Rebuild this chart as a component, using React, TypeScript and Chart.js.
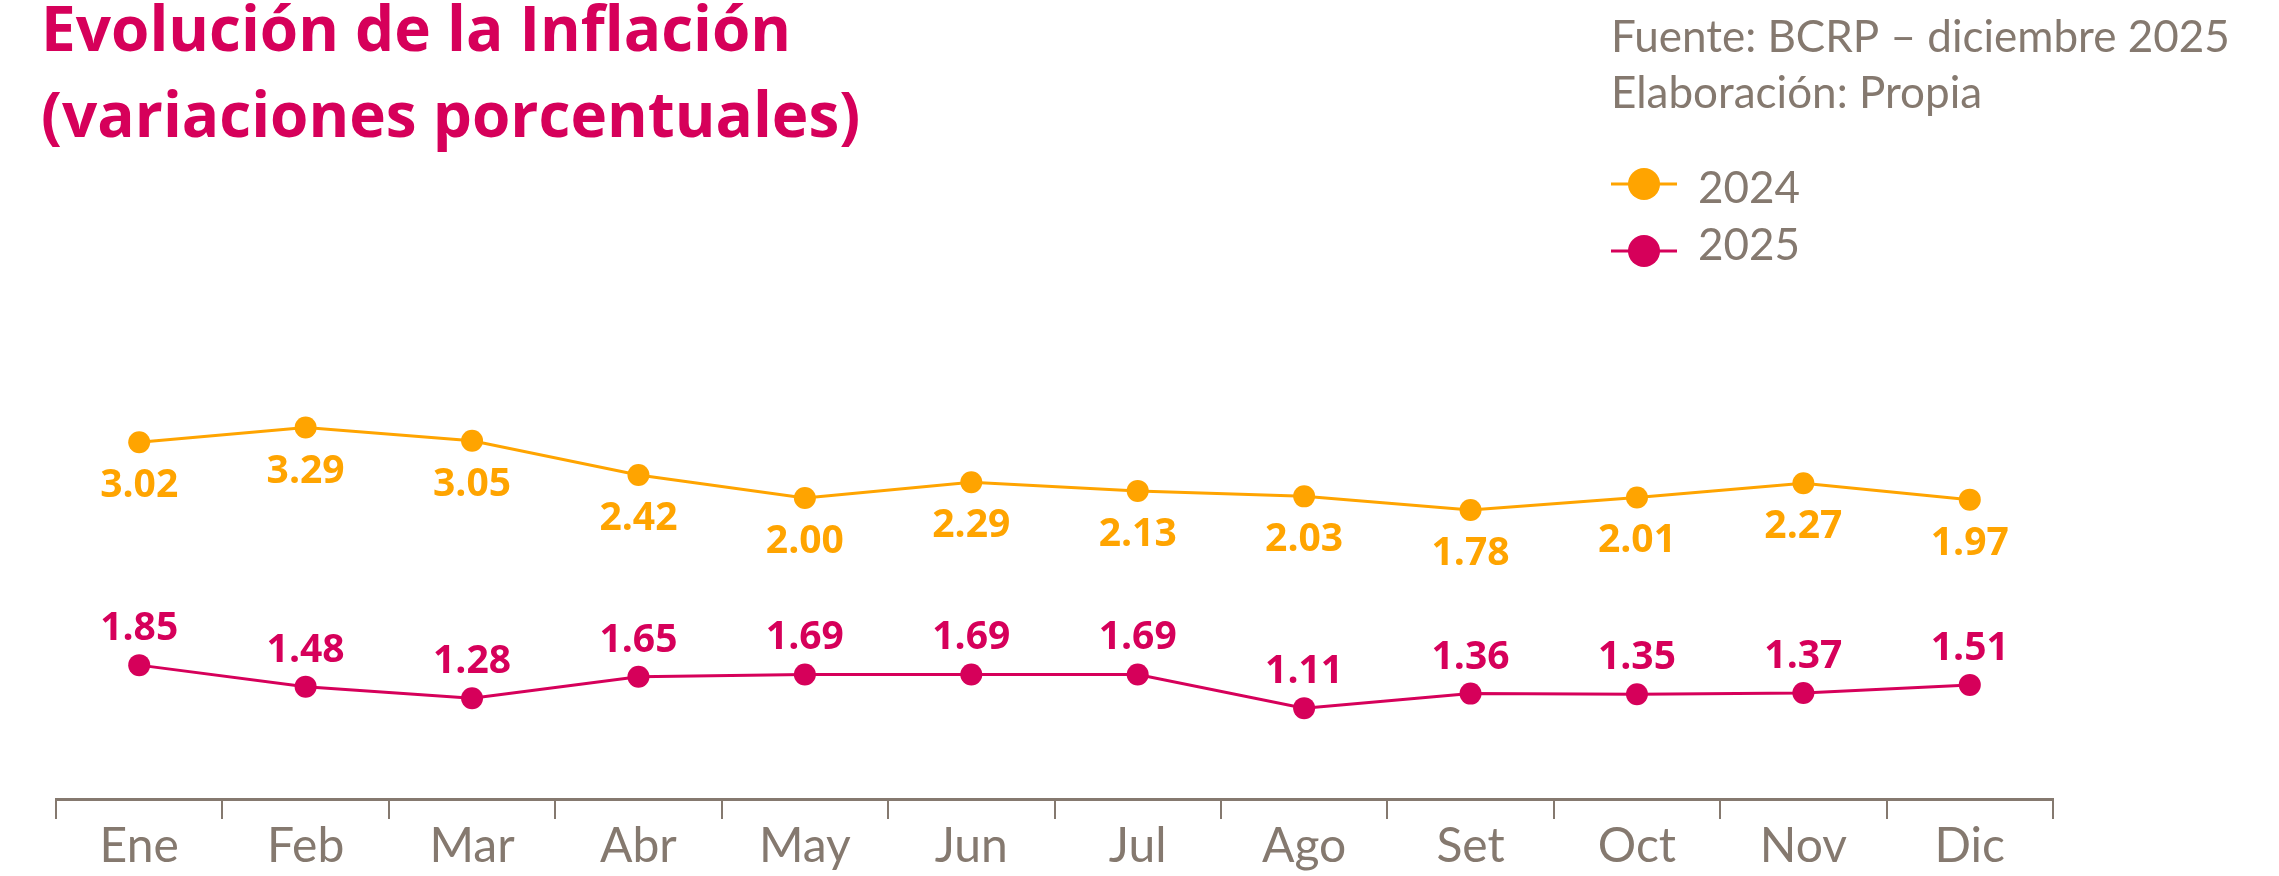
import React, { useEffect, useRef } from 'react';
import { Chart, registerables } from 'chart.js';

Chart.register(...registerables);

const months = ['Ene', 'Feb', 'Mar', 'Abr', 'May', 'Jun', 'Jul', 'Ago', 'Set', 'Oct', 'Nov', 'Dic'];
const values2024 = [3.02, 3.29, 3.05, 2.42, 2.0, 2.29, 2.13, 2.03, 1.78, 2.01, 2.27, 1.97];
const values2025 = [1.85, 1.48, 1.28, 1.65, 1.69, 1.69, 1.69, 1.11, 1.36, 1.35, 1.37, 1.51];
const seriesLabels = ['2024', '2025'];
const titleLines = ['Evolución de la Inflación', '(variaciones porcentuales)'];
const sourceLines = ['Fuente: BCRP – diciembre 2025', 'Elaboración: Propia'];

const ORANGE = '#FFA400';
const PINK = '#D6005A';
const GRAY = '#85796F';

const LABEL_BASELINE_OFFSETS = [55, -25];

const valueLabelPlugin = {
  id: 'valueLabels',
  afterDatasetsDraw(chart: any) {
    const ctx = chart.ctx;
    ctx.save();
    ctx.font = 'bold 39px "Open Sans"';
    ctx.textAlign = 'center';
    ctx.textBaseline = 'alphabetic';
    chart.data.datasets.forEach((ds: any, i: number) => {
      const meta = chart.getDatasetMeta(i);
      ctx.fillStyle = ds.borderColor;
      meta.data.forEach((pt: any, j: number) => {
        const v = ds.data[j] as number;
        ctx.fillText(v.toFixed(2), pt.x, pt.y + LABEL_BASELINE_OFFSETS[i]);
      });
    });
    ctx.restore();
  },
};

const decorPlugin = {
  id: 'decor',
  afterDraw(chart: any) {
    const ctx = chart.ctx;
    ctx.save();
    ctx.textAlign = 'left';
    ctx.textBaseline = 'alphabetic';
    ctx.fillStyle = PINK;
    ctx.font = 'bold 62px "Open Sans"';
    ctx.fillText(titleLines[0], 41, 51);
    ctx.fillText(titleLines[1], 41, 137);

    ctx.fillStyle = GRAY;
    ctx.font = '44px Lato';
    ctx.fillText(sourceLines[0], 1611, 52);
    ctx.fillText(sourceLines[1], 1611, 108);

    const dotY = [184, 251];
    const textY = [203, 260];
    chart.data.datasets.forEach((ds: any, i: number) => {
      ctx.strokeStyle = ds.borderColor;
      ctx.lineWidth = 3;
      ctx.beginPath();
      ctx.moveTo(1611, dotY[i]);
      ctx.lineTo(1677, dotY[i]);
      ctx.stroke();
      ctx.fillStyle = ds.backgroundColor;
      ctx.beginPath();
      ctx.arc(1644, dotY[i], 16, 0, Math.PI * 2);
      ctx.fill();
      ctx.fillStyle = GRAY;
      ctx.fillText(ds.label, 1698, textY[i]);
    });
    ctx.restore();
  },
};

export default function App() {
  const ref = useRef<HTMLCanvasElement | null>(null);

  useEffect(() => {
    const canvas = ref.current;
    if (!canvas) return;
    const chart = new Chart(canvas, {
      type: 'line',
      data: {
        labels: months,
        datasets: [
          {
            label: seriesLabels[0],
            data: values2024,
            yAxisID: 'y',
            borderColor: ORANGE,
            backgroundColor: ORANGE,
            pointBackgroundColor: ORANGE,
            borderWidth: 3,
            pointRadius: 11,
            pointBorderWidth: 0,
            tension: 0,
          },
          {
            label: seriesLabels[1],
            data: values2025,
            yAxisID: 'y1',
            borderColor: PINK,
            backgroundColor: PINK,
            pointBackgroundColor: PINK,
            borderWidth: 3,
            pointRadius: 11,
            pointBorderWidth: 0,
            tension: 0,
          },
        ],
      },
      options: {
        responsive: false,
        animation: false,
        devicePixelRatio: 1,
        layout: { padding: { top: 279, left: 56, right: 226, bottom: 1 } },
        plugins: {
          legend: { display: false },
          title: { display: false },
          tooltip: { enabled: false },
        },
        scales: {
          x: {
            offset: true,
            grid: {
              display: true,
              offset: true,
              drawOnChartArea: false,
              drawTicks: true,
              tickLength: 20,
              color: GRAY,
              lineWidth: 2,
            },
            border: { display: true, color: GRAY, width: 3 },
            ticks: {
              color: GRAY,
              font: { family: 'Lato', size: 48, lineHeight: 1 },
              padding: 4,
              maxRotation: 0,
              autoSkip: false,
            },
          },
          y: { type: 'linear', display: false, min: -3.513, max: 6.011 },
          y1: { type: 'linear', display: false, min: -0.454, max: 8.496 },
        },
      },
      plugins: [valueLabelPlugin, decorPlugin],
    } as any);
    return () => chart.destroy();
  }, []);

  return (
    <div style={{ position: 'absolute', left: 0, top: 0, width: 2279, height: 876, background: '#fff' }}>
      <canvas ref={ref} width={2279} height={876} style={{ display: 'block', width: 2279, height: 876 }} />
    </div>
  );
}
